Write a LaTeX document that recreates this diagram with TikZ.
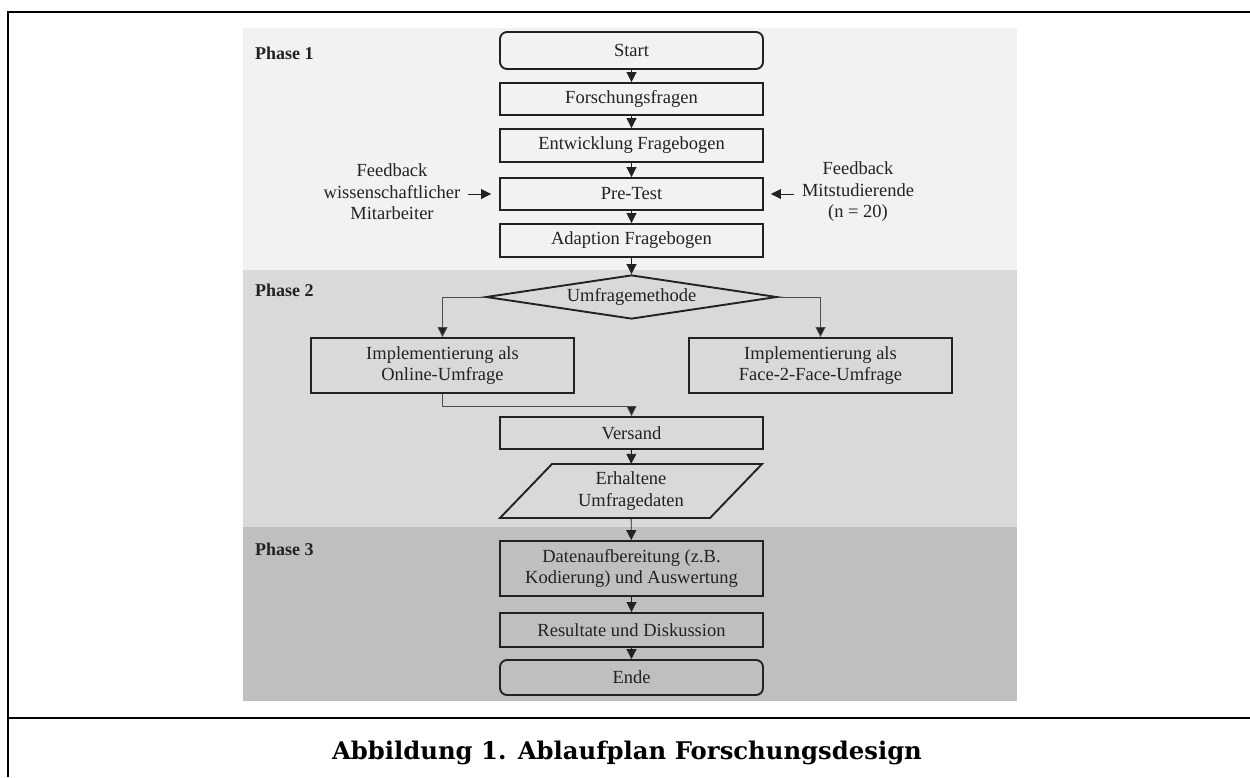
\documentclass[tikz,border=0pt]{standalone}
\usepackage{fontspec}
\setmainfont{Liberation Serif}
\newfontfamily\captionfont{DejaVu Serif}
\usetikzlibrary{arrows.meta,shapes.geometric}
\definecolor{phaseone}{HTML}{F2F2F2}
\definecolor{phasetwo}{HTML}{D9D9D9}
\definecolor{phasethree}{HTML}{BFBFBF}
\definecolor{ink}{HTML}{222222}
\begin{document}
\begin{tikzpicture}[x=1pt,y=-1pt,
  boxtext/.style={font=\fontsize{18.5}{21.5}\selectfont, text=ink, align=center},
  stepbox/.style={boxtext, draw=ink, line width=1.9pt, minimum width=263pt, inner sep=0pt},
  termbox/.style={stepbox, rounded corners=7pt},
  decision/.style={boxtext, draw=ink, line width=1.9pt, diamond, aspect=6,
    minimum width=291pt, minimum height=44pt, inner sep=0pt},
  flow/.style={draw=ink, line width=0.9pt, -{Triangle[length=10pt,width=10pt]}},
  branch/.style={draw=black!70, line width=0.8pt, -{Triangle[length=10pt,width=10pt,fill=ink]}},
  note/.style={boxtext},
  phaselabel/.style={font=\bfseries\fontsize{18}{21}\selectfont, text=ink, anchor=west, inner sep=0pt},
  frameline/.style={line width=2.6pt, black}
]
\useasboundingbox (0,0) rectangle (1250,777);
\fill[white] (0,0) rectangle (1250,777);

% outer frame and caption rule
\draw[frameline] (8,777) -- (8,12) -- (1250,12);
\draw[frameline] (8,718) -- (1250,718);

% phase bands
\fill[phaseone] (243,28) rectangle (1017,270);
\fill[phasetwo] (243,270) rectangle (1017,527);
\fill[phasethree] (243,527) rectangle (1017,701);

\node[phaselabel] (p1) at (255,53) {Phase 1};
\node[phaselabel] (p2) at (255,290) {Phase 2};
\node[phaselabel] (p3) at (255,549) {Phase 3};

% phase 1
\node[termbox, minimum height=37pt] (start) at (631.5,50.5) {Start};
\node[stepbox, minimum height=32pt] (forsch) at (631.5,99) {Forschungsfragen};
\node[stepbox, minimum height=33pt] (entw) at (631.5,145.5) {Entwicklung Fragebogen};
\node[stepbox, minimum height=32pt] (pretest) at (631.5,194) {Pre-Test};
\node[stepbox, minimum height=33pt] (adapt) at (631.5,240.5) {Adaption Fragebogen};

\node[note] (fbleft) at (392,192) {Feedback\\wissenschaftlicher\\Mitarbeiter};
\node[note] (fbright) at (858,192) {Feedback\\Mitstudierende\\(n = 20)};

% phase 2
\node[decision] (method) at (631.5,297) {Umfragemethode};
\node[stepbox, minimum height=55pt] (online) at (442.5,365.5) {Implementierung als\\Online-Umfrage};
\node[stepbox, minimum height=55pt] (f2f) at (820.5,365.5) {Implementierung als\\Face-2-Face-Umfrage};
\node[stepbox, minimum height=32pt] (versand) at (631.5,433) {Versand};
\node[boxtext, minimum width=210pt, minimum height=54pt, inner sep=0pt] (data) at (631,491) {Erhaltene\\Umfragedaten};
\draw[ink, line width=1.9pt, line join=miter]
  (500,518) -- (552,464) -- (762,464) -- (710,518) -- cycle;

% phase 3
\node[stepbox, minimum height=55pt] (prep) at (631.5,568.5) {Datenaufbereitung (z.B.\\Kodierung) und Auswertung};
\node[stepbox, minimum height=34pt] (results) at (631.5,630) {Resultate und Diskussion};
\node[termbox, minimum height=35pt] (ende) at (631.5,677.5) {Ende};

% connectors
\draw[flow] (start) -- (forsch);
\draw[flow] (forsch) -- (entw);
\draw[flow] (entw) -- (pretest);
\draw[flow] (pretest) -- (adapt);
\draw[flow] (adapt) -- (method);
\draw[flow, shorten <=4pt, shorten >=8pt] (fbleft.east |- pretest.west) -- (pretest.west);
\draw[flow, shorten <=4pt, shorten >=7pt] (fbright.west |- pretest.east) -- (pretest.east);
\draw[branch] (method.west) -| (online.north);
\draw[branch] (method.east) -| (f2f.north);
\draw[branch] (online.south) -- ++(0,12) -| (versand.north);
\draw[flow] (versand) -- (data);
\draw[flow] (data) -- (prep);
\draw[flow] (prep) -- (results);
\draw[flow] (results) -- (ende);

% caption
\node[font=\captionfont\bfseries\fontsize{24.3}{28}\selectfont, text=black] (caption) at (627,753) {Abbildung 1. Ablaufplan Forschungsdesign};
\end{tikzpicture}
\end{document}
